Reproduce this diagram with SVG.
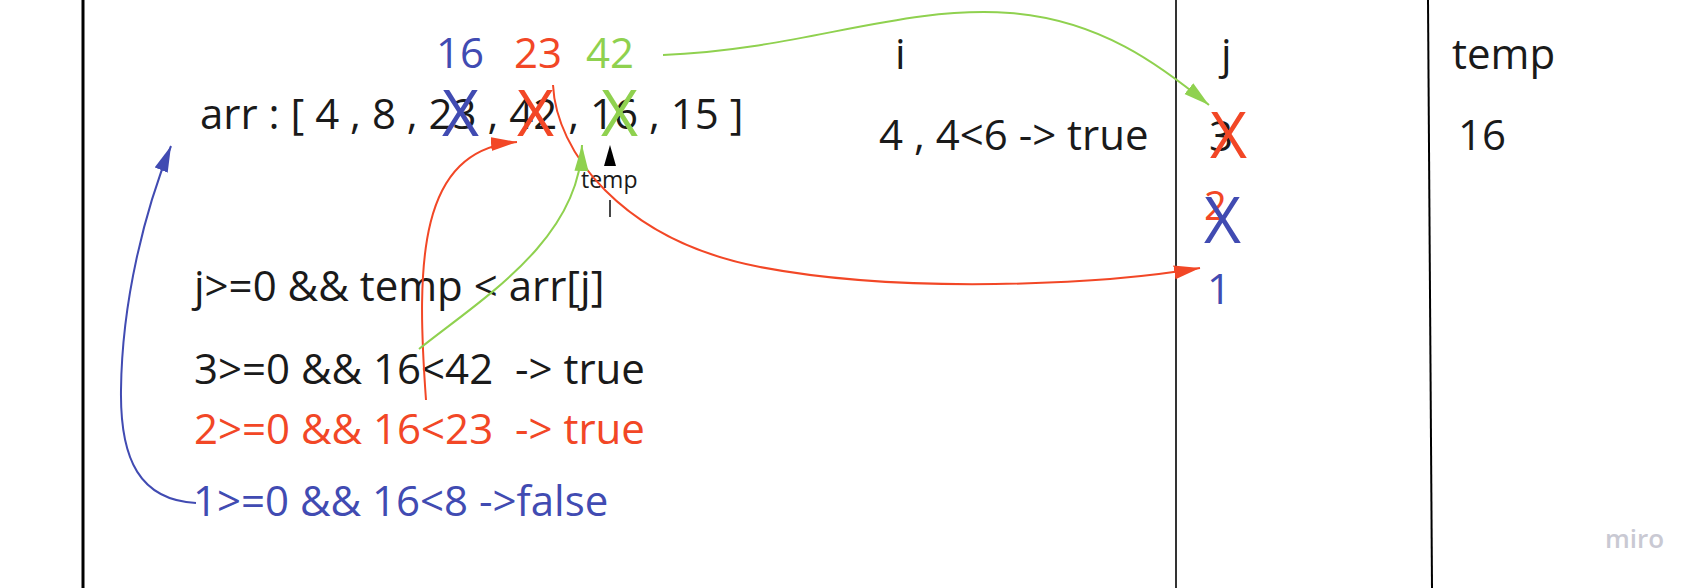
<svg xmlns="http://www.w3.org/2000/svg" width="1699" height="588" viewBox="0 0 1699 588">
<style>
text{font-family:"Open Sans","Noto Sans","Liberation Sans",sans-serif;font-size:42px;fill:#1a1a1a;white-space:pre}
.b{fill:#414bb2}.r{fill:#f24726}.g{fill:#8fd14f}
.x{font-size:64px}
.c{fill:none;stroke-width:2}
</style>
<defs>
<marker id="ar" markerUnits="userSpaceOnUse" markerWidth="28" markerHeight="16" refX="26" refY="7" orient="auto"><path d="M0,0 L26,7 L0,14 z" fill="#f24726"/></marker>
<marker id="ag" markerUnits="userSpaceOnUse" markerWidth="28" markerHeight="16" refX="26" refY="7" orient="auto"><path d="M0,0 L26,7 L0,14 z" fill="#8fd14f"/></marker>
<marker id="ab" markerUnits="userSpaceOnUse" markerWidth="28" markerHeight="16" refX="26" refY="7" orient="auto"><path d="M0,0 L26,7 L0,14 z" fill="#414bb2"/></marker>
</defs>
<rect width="1699" height="588" fill="#ffffff"/>
<g id="frame">
<line x1="83" y1="0" x2="83" y2="588" stroke="#000" stroke-width="3"/>
<line x1="1176" y1="0" x2="1176" y2="588" stroke="#000" stroke-width="1.6"/>
<line x1="1428" y1="0" x2="1432" y2="588" stroke="#000" stroke-width="2"/>
</g>
<g id="values">
<text x="436" y="68" class="b">16</text>
<text x="514" y="68" class="r">23</text>
<text x="586" y="68" class="g">42</text>
</g>
<g id="arr">
<text x="200" y="129">arr : [ 4 , 8 , 23 , 42 , 16 , 15 ]</text>
<text x="442" y="136" class="b x">X</text>
<text x="517" y="136" class="r x">X</text>
<text x="601" y="136" class="g x">X</text>
</g>
<g id="temp-pointer">
<text x="581" y="188" style="font-size:23px">temp</text>
<line x1="610" y1="200" x2="610" y2="217" stroke="#1a1a1a" stroke-width="1.6"/>
</g>
<g id="conditions">
<text x="194" y="301">j&gt;=0 &amp;&amp; temp &lt; arr[j]</text>
<text x="194" y="384" xml:space="preserve">3&gt;=0 &amp;&amp; 16&lt;42  -&gt; true</text>
<text x="194" y="444" class="r" xml:space="preserve">2&gt;=0 &amp;&amp; 16&lt;23  -&gt; true</text>
<text x="193" y="516" class="b">1&gt;=0 &amp;&amp; 16&lt;8 -&gt;false</text>
</g>
<g id="col-i">
<text x="895" y="69">i</text>
<text x="879" y="150">4 , 4&lt;6 -&gt; true</text>
</g>
<g id="col-j">
<text x="1221" y="69">j</text>
<text x="1209" y="151">3</text>
<text x="1210" y="158" class="r x">X</text>
<text x="1204" y="220" class="r" style="font-size:40px">2</text>
<text x="1204" y="243" class="b x">X</text>
<text x="1207" y="304" class="b">1</text>
</g>
<g id="col-temp">
<text x="1452" y="69">temp</text>
<text x="1458" y="150">16</text>
</g>
<g id="connectors">
<path class="c" stroke="#f24726" d="M426,400 C416,262 418,150 517,142" marker-end="url(#ar)"/>
<path class="c" stroke="#f24726" d="M553,85 C556,150 620,240 760,267 C900,294 1100,285 1200,268" marker-end="url(#ar)"/>
<path class="c" stroke="#8fd14f" d="M663,55 C800,50 900,5 1010,13 C1100,20 1160,65 1209,105" marker-end="url(#ag)"/>
<path class="c" stroke="#8fd14f" d="M419,349 C480,300 580,240 582,145" marker-end="url(#ag)"/>
<path class="c" stroke="#414bb2" d="M196,503 C140,500 120,460 121,390 C122,300 145,210 171,146" marker-end="url(#ab)"/>
<path d="M610,145 L616,166 L604,166 z" fill="#000"/>
</g>
<g id="watermark">
<text x="1605" y="548" style="font-size:26px;font-weight:600;fill:#c9c9d3">miro</text>
</g>
</svg>
